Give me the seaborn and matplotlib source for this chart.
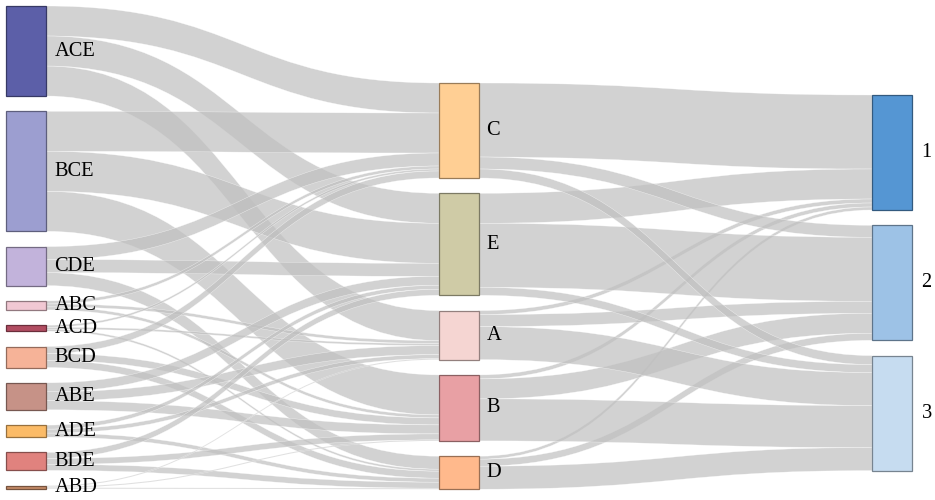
import numpy as np
import seaborn as sns
import matplotlib.pyplot as plt
import matplotlib.colors as mcolors
from matplotlib.path import Path
from matplotlib.patches import PathPatch, Rectangle

# left column: three-letter combinations, each one sends its count to each of its letters
combos = ['ACE', 'BCE', 'CDE', 'ABC', 'ACD', 'BCD', 'ABE', 'ADE', 'BDE', 'ABD']
combo_counts = [30, 40, 13, 3, 2, 7, 9, 4, 6, 1]

# middle and right columns
letters = ['C', 'E', 'A', 'B', 'D']
groups = ['1', '2', '3']

# letter -> group flows (one value per letter, same order as `letters`)
to_group_1 = [74, 30, 4, 4, 3]
to_group_2 = [12, 64, 12, 20, 7]
to_group_3 = [9, 8, 33, 42, 23]

combo_colors = ['#5c5fa8', '#9c9ed0', '#c2b3db', '#f1c8d3', '#b14d62',
                '#f6b398', '#c69287', '#fbbb67', '#e0827e', '#c48b67']
letter_colors = ['#ffcf94', '#cfcba6', '#f5d5d2', '#e8a0a4', '#ffb98c']
group_colors = ['#5596d3', '#9dc2e6', '#c6dcf0']

# layout (pixels)
W, H = 935, 500
node_w = 39.5
col_x = [6, 439, 872]
col_top = [6, 83, 95]
pad = 15.3
scale = 1.0
link_color = '#c0c0c0'
link_alpha = 0.7


def build_links():
    links = []
    for i, (name, cnt) in enumerate(zip(combos, combo_counts)):
        for ch in name:
            links.append((0, i, 1, letters.index(ch), cnt))
    for g, flows in enumerate([to_group_1, to_group_2, to_group_3]):
        for j, v in enumerate(flows):
            links.append((1, j, 2, g, v))
    return links


def main():
    sns.set_theme(style='white')
    plt.rcParams['font.family'] = ['Liberation Serif', 'DejaVu Serif']

    links = build_links()
    columns = [combos, letters, groups]
    colors = [combo_colors, letter_colors, group_colors]

    # node values = max(in, out)
    outv = [np.zeros(len(c)) for c in columns]
    inv = [np.zeros(len(c)) for c in columns]
    for sc, si, tc, ti, v in links:
        outv[sc][si] += v
        inv[tc][ti] += v
    vals = [np.maximum(outv[c], inv[c]) for c in range(3)]

    # stack nodes inside each column
    node_y = []
    for c in range(3):
        ys = []
        y = col_top[c]
        for v in vals[c]:
            ys.append(y)
            y += v * scale + pad
        node_y.append(ys)

    fig = plt.figure(figsize=(W / 100, H / 100), dpi=100)
    ax = fig.add_axes([0, 0, 1, 1])
    ax.set_xlim(0, W)
    ax.set_ylim(H, 0)
    ax.axis('off')

    # link offsets: outgoing sorted by target order, incoming by source order
    out_off = {}
    in_off = {}
    for c in range(3):
        for i in range(len(columns[c])):
            out_off[(c, i)] = node_y[c][i]
            in_off[(c, i)] = node_y[c][i]

    src_pos = {}
    for l in sorted(links, key=lambda l: (l[0], l[1], l[3])):
        key = (l[0], l[1])
        y0 = out_off[key]
        src_pos[l] = (y0, y0 + l[4] * scale)
        out_off[key] = y0 + l[4] * scale
    tgt_pos = {}
    for l in sorted(links, key=lambda l: (l[2], l[3], l[1])):
        key = (l[2], l[3])
        y0 = in_off[key]
        tgt_pos[l] = (y0, y0 + l[4] * scale)
        in_off[key] = y0 + l[4] * scale

    for l in links:
        sc, si, tc, ti, v = l
        x0 = col_x[sc] + node_w
        x1 = col_x[tc]
        xm = (x0 + x1) / 2
        s0, s1 = src_pos[l]
        t0, t1 = tgt_pos[l]
        verts = [(x0, s0), (xm, s0), (xm, t0), (x1, t0),
                 (x1, t1), (xm, t1), (xm, s1), (x0, s1), (x0, s0)]
        codes = [Path.MOVETO, Path.CURVE4, Path.CURVE4, Path.CURVE4,
                 Path.LINETO, Path.CURVE4, Path.CURVE4, Path.CURVE4,
                 Path.CLOSEPOLY]
        ax.add_patch(PathPatch(Path(verts, codes), facecolor=link_color,
                               alpha=link_alpha, edgecolor='white',
                               linewidth=0.3, zorder=1))

    label_dx = [9, 8, 10]
    for c in range(3):
        for i, name in enumerate(columns[c]):
            y0 = node_y[c][i]
            h = vals[c][i] * scale
            fc = colors[c][i]
            ec = tuple(np.array(mcolors.to_rgb(fc)) * 0.6)
            ax.add_patch(Rectangle((col_x[c], y0), node_w, h, facecolor=fc,
                                   edgecolor=ec, linewidth=0.9, zorder=2))
            ax.text(col_x[c] + node_w + label_dx[c], y0 + h / 2, name,
                    fontsize=14.7, color='black', ha='left', va='center',
                    zorder=3)

    fig.savefig('out.png', dpi=100)


if __name__ == '__main__':
    main()
